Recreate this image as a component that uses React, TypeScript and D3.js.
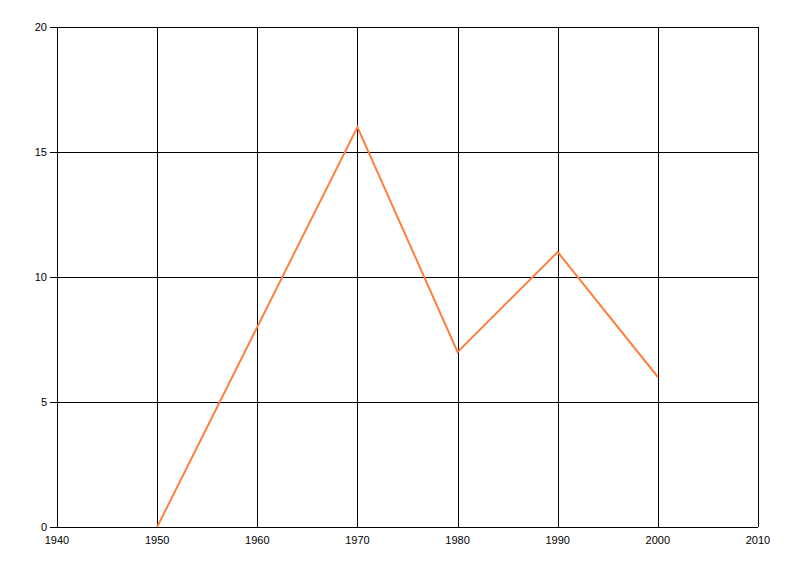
import React from "react";
import * as d3 from "d3";

const years = [1950, 1960, 1970, 1980, 1990, 2000];
const values = [0, 8, 16, 7, 11, 6];
const xTicks = [1940, 1950, 1960, 1970, 1980, 1990, 2000, 2010];
const yTicks = [0, 5, 10, 15, 20];

export default function App() {
  const W = 800, H = 576;
  const left = 57, right = 758, top = 27, bottom = 527;
  const x = d3.scaleLinear().domain([1940, 2010]).range([left, right]);
  const y = d3.scaleLinear().domain([0, 20]).range([bottom, top]);
  const pts = years.map((yr, i) => [yr, values[i]] as [number, number]);
  const line = d3.line<[number, number]>().x(d => x(d[0])).y(d => y(d[1]));
  const font = "'Liberation Sans', Arial, sans-serif";
  return (
    <svg width={W} height={H} style={{ position: "absolute", left: 0, top: 0, background: "#fff" }}>
      <rect x={0} y={0} width={W} height={H} fill="#fff" />
      {xTicks.map(t => (
        <line key={"gx" + t} x1={Math.round(x(t)) + 0.5} x2={Math.round(x(t)) + 0.5} y1={top} y2={bottom} stroke="#000" strokeWidth={1} />
      ))}
      {yTicks.map(t => (
        <line key={"gy" + t} x1={left - 7} x2={right} y1={Math.round(y(t)) + 0.5} y2={Math.round(y(t)) + 0.5} stroke="#000" strokeWidth={1} />
      ))}
      {yTicks.map(t => (
        <text key={"ly" + t} x={47} y={y(t)} textAnchor="end" dominantBaseline="central" fontFamily={font} fontSize={11} fill="#000">{t}</text>
      ))}
      {xTicks.map(t => (
        <text key={"lx" + t} x={x(t)} y={540} textAnchor="middle" dominantBaseline="central" fontFamily={font} fontSize={11} fill="#000">{t}</text>
      ))}
      <path d={line(pts) || ""} fill="none" stroke="#FF7F3F" strokeWidth={2} strokeLinejoin="miter" />
    </svg>
  );
}
